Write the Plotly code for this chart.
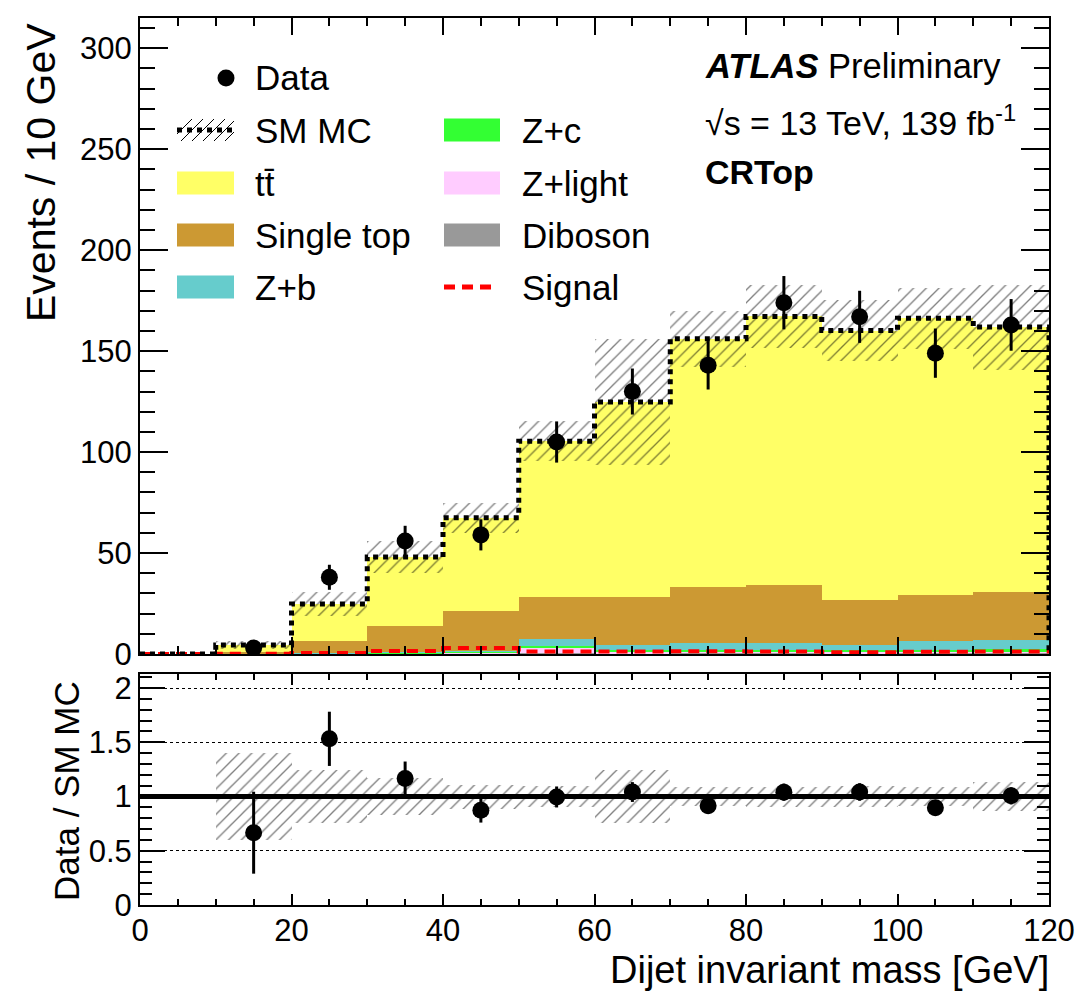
import plotly.graph_objects as go

# ---------------- data ----------------
bin_edges = [0, 10, 20, 30, 40, 50, 60, 70, 80, 90, 100, 110, 120]
bin_centers = [5, 15, 25, 35, 45, 55, 65, 75, 85, 95, 105, 115]

ttbar      = [0, 3.5, 18.2, 34.0, 46.0, 77.4, 96.7, 123.1, 132.8, 133.3, 136.9, 131.0]
single_top = [0, 0.9, 6.1, 13.0, 20.0, 20.6, 23.5, 27.4, 28.8, 22.3, 22.8, 24.0]
z_b        = [0, 0.1, 0.2, 0.4, 0.5, 3.5, 2.7, 3.4, 3.4, 2.7, 4.4, 4.2]
z_c        = [0, 0.0, 0.1, 0.2, 0.4, 0.5, 1.0, 1.2, 1.2, 1.0, 1.2, 1.5]
z_light    = [0, 0.0, 0.1, 0.2, 0.3, 3.0, 0.5, 0.5, 0.5, 0.5, 0.5, 0.7]
diboson    = [0, 0.0, 0.1, 0.2, 0.3, 0.4, 0.4, 0.5, 0.5, 0.4, 0.5, 0.5]
mc_unc     = [0, 1.8, 6.0, 8.0, 7.5, 10.0, 31.0, 14.0, 15.5, 15.2, 15.0, 21.0]
signal     = [0, 0.1, 0.5, 1.5, 3.0, 1.3, 1.3, 1.4, 1.3, 0.9, 1.1, 1.2]

data_x   = [15, 25, 35, 45, 55, 65, 75, 85, 95, 105, 115]
data_y   = [3, 38, 56, 59, 105, 130, 143, 174, 167, 149, 163]
data_err = [1.7, 6.2, 7.5, 7.7, 10.2, 11.4, 12.0, 13.2, 12.9, 12.2, 12.8]

ratio_ticks = [0, 0.5, 1, 1.5, 2]
ratio_ticklabels = ["0", "0.5", "1", "1.5", "2"]

# ---------------- styling ----------------
FONT = "Liberation Sans, Arial, Helvetica, sans-serif"
W, H = 1075, 992
L, R, T, B = 140, 26, 18, 87
PW, PH = W - L - R, H - T - B


def px(x):
    return (x - L) / PW


def py(y):
    return (H - B - y) / PH


components = [
    ("Diboson", diboson, "#999999"),
    ("Z+light", z_light, "#FFCCFF"),
    ("Z+c", z_c, "#33FF33"),
    ("Z+b", z_b, "#66CCCC"),
    ("Single top", single_top, "#CC9933"),
    ("tt", ttbar, "#FFFF66"),
]

HATCH = dict(shape="/", fgcolor="black", bgcolor="rgba(0,0,0,0)",
             size=9, solidity=0.15, fillmode="overlay")

fig = go.Figure()

# stacked histogram drawn as bars with explicit bases
base = [0.0] * len(bin_centers)
for name, vals, col in components:
    fig.add_trace(go.Bar(
        x=bin_centers, y=vals, base=list(base), width=10,
        marker=dict(color=col, line=dict(width=0)),
        showlegend=False, xaxis="x", yaxis="y", name=name,
    ))
    base = [b + v for b, v in zip(base, vals)]
mc_total = base

# hatched MC uncertainty band
fig.add_trace(go.Bar(
    x=bin_centers, y=[2 * u for u in mc_unc],
    base=[t - u for t, u in zip(mc_total, mc_unc)], width=10,
    marker=dict(color="rgba(0,0,0,0)", line=dict(width=0), pattern=HATCH),
    showlegend=False, xaxis="x", yaxis="y",
))

# signal dashed step line
fig.add_trace(go.Scatter(
    x=bin_edges[:-1] + [bin_edges[-1]], y=signal + [signal[-1]],
    mode="lines", line=dict(color="#FF0000", width=4, dash="11px,7px", shape="hv"),
    showlegend=False, xaxis="x", yaxis="y",
))

# SM MC dotted step line
fig.add_trace(go.Scatter(
    x=bin_edges[:-1] + [bin_edges[-1], bin_edges[-1]],
    y=mc_total + [mc_total[-1], 0],
    mode="lines", line=dict(color="black", width=5, dash="dot", shape="hv"),
    showlegend=False, xaxis="x", yaxis="y",
))

# data
fig.add_trace(go.Scatter(
    x=data_x, y=data_y, mode="markers",
    marker=dict(color="black", size=17, symbol="circle"),
    error_y=dict(type="data", array=data_err, thickness=3, width=0, color="black"),
    showlegend=False, xaxis="x", yaxis="y",
))

# ---------------- ratio panel ----------------
mc_at_data = [mc_total[bin_centers.index(x)] for x in data_x]
unc_at_data = [mc_unc[bin_centers.index(x)] for x in data_x]
rel_unc = [u / t for u, t in zip(unc_at_data, mc_at_data)]

fig.add_trace(go.Bar(
    x=data_x, y=[2 * r for r in rel_unc], base=[1 - r for r in rel_unc], width=10,
    marker=dict(color="rgba(0,0,0,0)", line=dict(width=0), pattern=HATCH),
    showlegend=False, xaxis="x2", yaxis="y2",
))

fig.add_trace(go.Scatter(
    x=[bin_edges[0], bin_edges[-1]], y=[1, 1], mode="lines",
    line=dict(color="black", width=5), showlegend=False, xaxis="x2", yaxis="y2",
))

fig.add_trace(go.Scatter(
    x=data_x, y=[d / m for d, m in zip(data_y, mc_at_data)], mode="markers",
    marker=dict(color="black", size=17),
    error_y=dict(type="data", array=[e / m for e, m in zip(data_err, mc_at_data)],
                 thickness=3, width=0, color="black"),
    showlegend=False, xaxis="x2", yaxis="y2",
))

# ---------------- axes ----------------
ax_common = dict(showline=True, linecolor="black", linewidth=2, mirror="ticks",
                 ticks="inside", tickcolor="black", tickwidth=2,
                 showgrid=False, zeroline=False, automargin=False,
                 tickfont=dict(family=FONT, size=31, color="black"))

main_top = 1.0
main_bot = py(654)
ratio_top = py(674)

fig.update_layout(
    width=W, height=H,
    margin=dict(l=L, r=R, t=T, b=B),
    paper_bgcolor="white", plot_bgcolor="white",
    barmode="overlay", bargap=0,
    font=dict(family=FONT, color="black"),
    xaxis=dict(range=[0, 120], domain=[0, 1], anchor="y", dtick=20, tick0=0,
               ticklen=17, showticklabels=False,
               minor=dict(dtick=5, ticklen=8, ticks="inside", tickcolor="black", tickwidth=2),
               **ax_common),
    yaxis=dict(range=[0, 315], domain=[main_bot, main_top], anchor="x",
               dtick=50, tick0=0, ticklen=28,
               minor=dict(dtick=10, ticklen=15, ticks="inside", tickcolor="black", tickwidth=2),
               **ax_common),
    xaxis2=dict(range=[0, 120], domain=[0, 1], anchor="y2", matches="x",
                dtick=20, tick0=0, ticklen=11, ticklabelstandoff=-3,
                minor=dict(dtick=5, ticklen=6, ticks="inside", tickcolor="black", tickwidth=2),
                **ax_common),
    yaxis2=dict(range=[0, 2.13], domain=[0, ratio_top], anchor="x2",
                tickvals=ratio_ticks, ticktext=ratio_ticklabels, ticklen=25,
                minor=dict(dtick=0.1, ticklen=12, ticks="inside", tickcolor="black", tickwidth=2),
                **{**ax_common, "showgrid": True}, gridcolor="black", gridwidth=1, griddash="dot"),
)

# ---------------- text ----------------
ann = []


def text(x, y, s, size, xanchor="left", yanchor="middle", angle=0, pad=1):
    ann.append(dict(x=px(x), y=py(y), xref="paper", yref="paper", text=s, showarrow=False,
                    xanchor=xanchor, yanchor=yanchor, textangle=angle, borderpad=pad,
                    font=dict(family=FONT, size=size, color="black")))


text(41, 173, "Events / 10 GeV", 41, xanchor="center", angle=-90)
text(66, 791, "Data / SM MC", 35, xanchor="center", angle=-90)
text(1050, 992, "Dijet invariant mass [GeV]", 38, xanchor="right", yanchor="bottom", pad=0)

text(703, 66, "<b><i>ATLAS</i></b> Preliminary", 34.5)
text(703, 120, "\u221as = 13 TeV, 139 fb<sup>-1</sup>", 34)
text(703, 172, "<b>CRTop</b>", 34)

# legend
rows = [78, 130, 183, 235, 287]
legend_col1 = ["Data", "SM MC", "tt\u0304", "Single top", "Z+b"]
legend_col2 = ["Z+c", "Z+light", "Diboson", "Signal"]
for yy, s in zip(rows, legend_col1):
    text(253, yy, s, 35)
for yy, s in zip(rows[1:], legend_col2):
    text(520, yy, s, 35)

shapes = []


def rect(x0, x1, yc, col):
    shapes.append(dict(type="rect", xref="paper", yref="paper",
                       x0=px(x0), x1=px(x1), y0=py(yc + 11.5), y1=py(yc - 11.5),
                       fillcolor=col, line=dict(width=0)))


def seg(x0, y0, x1, y1, col="black", width=1, dash="solid"):
    shapes.append(dict(type="line", xref="paper", yref="paper",
                       x0=px(x0), y0=py(y0), x1=px(x1), y1=py(y1),
                       line=dict(color=col, width=width, dash=dash)))


colors = {n: c for n, _, c in components}
rect(177, 234, rows[2], colors["tt"])
rect(177, 234, rows[3], colors["Single top"])
rect(177, 234, rows[4], colors["Z+b"])
rect(444, 500, rows[1], colors["Z+c"])
rect(444, 500, rows[2], colors["Z+light"])
rect(444, 500, rows[3], colors["Diboson"])
seg(444, rows[4], 496, rows[4], col="#FF0000", width=5, dash="11px,7px")

# SM MC swatch: hatch + dotted line
yb, yt = rows[1] + 11, rows[1] - 11
for xs in [170, 181, 192, 203, 214, 225]:
    xa, ya, xb, yb2 = xs, yb, xs + 22, yt
    if xa < 177:
        ya = ya - (177 - xa) * (yb - yt) / 22
        xa = 177
    if xb > 234:
        yb2 = yb2 + (xb - 234) * (yb - yt) / 22
        xb = 234
    seg(xa, ya, xb, yb2, width=1)
seg(177, rows[1], 234, rows[1], width=5, dash="dot")
shapes.append(dict(type="circle", xref="paper", yref="paper",
                   x0=px(226 - 8.5), x1=px(226 + 8.5), y0=py(rows[0] + 8.5), y1=py(rows[0] - 8.5),
                   fillcolor="black", line=dict(width=0)))

fig.update_layout(annotations=ann, shapes=shapes)

fig.write_html("out.html", config={"displayModeBar": False},
               post_script="document.body.style.margin='0px';")
